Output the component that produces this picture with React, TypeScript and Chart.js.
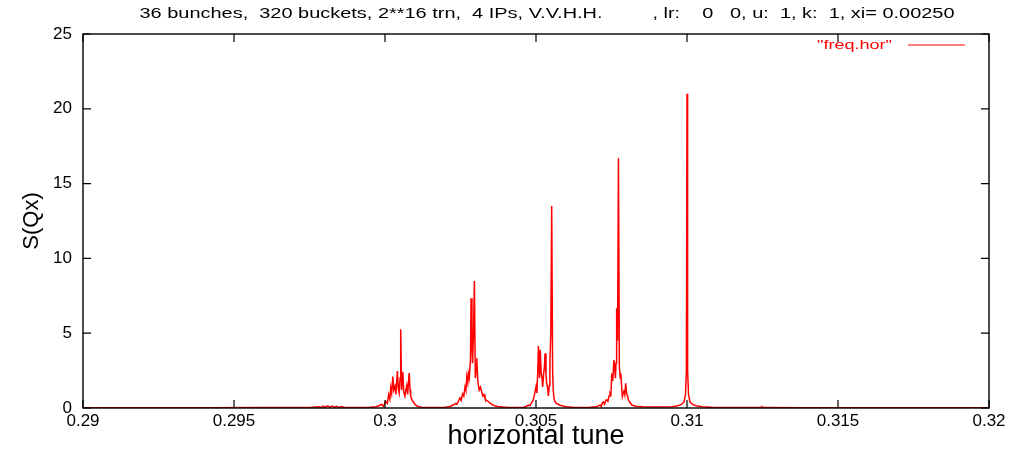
import React, { useEffect, useRef } from "react";
import { Chart, registerables } from "chart.js";

Chart.register(...registerables);

// ---- data ----
const tuneValues: number[] = [
  0.29, 0.292, 0.294, 0.296, 0.2975,
  0.2978, 0.29788, 0.29795, 0.29802, 0.2981, 0.29818, 0.29825, 0.29833, 0.2984, 0.29848, 0.29856, 0.29865,
  0.299, 0.2995, 0.2997, 0.2998,
  0.29989, 0.29995, 0.30002, 0.30008, 0.30012, 0.30016, 0.30019, 0.30022, 0.30026, 0.30029, 0.30033, 0.30036,
  0.30041, 0.30044, 0.30047, 0.3005, 0.30052, 0.30055, 0.30057, 0.30059, 0.30062, 0.30066, 0.30069, 0.30072,
  0.30075, 0.30078, 0.3008, 0.30083, 0.30085, 0.30089, 0.30094, 0.30099, 0.30105, 0.3011, 0.30116, 0.30125,
  0.3015, 0.3018, 0.302, 0.30215,
  0.30226, 0.30232, 0.30238, 0.30243, 0.30248, 0.30252, 0.30257, 0.30261, 0.30265, 0.30268, 0.30271, 0.30274,
  0.30276, 0.30279, 0.30283, 0.30285, 0.30288, 0.3029, 0.30293, 0.30296, 0.30299, 0.30302, 0.30304, 0.30307,
  0.30309, 0.30312, 0.30316, 0.3032, 0.30324, 0.30328, 0.30331, 0.30336, 0.30341, 0.30348, 0.30355, 0.30363,
  0.30374, 0.3039, 0.30414, 0.3044, 0.3046, 0.30468,
  0.30475, 0.3048, 0.30485, 0.30491, 0.30495, 0.305, 0.30503, 0.30506, 0.30508, 0.3051, 0.30512, 0.30514,
  0.30517, 0.3052, 0.30522, 0.30525, 0.30528, 0.3053, 0.30533, 0.30535, 0.30538, 0.30541, 0.30544, 0.30546,
  0.30549, 0.30552, 0.30555, 0.30557, 0.3056, 0.30563, 0.30568, 0.30574, 0.3058, 0.30589, 0.306, 0.3062,
  0.3065, 0.3068, 0.307,
  0.30712, 0.30716, 0.3072, 0.30723, 0.30727, 0.30731, 0.30734, 0.30738, 0.30742, 0.30745, 0.30748, 0.30751,
  0.30754, 0.30758, 0.30761, 0.30763, 0.30765, 0.30767, 0.3077, 0.30773, 0.30776, 0.30779, 0.30781, 0.30784,
  0.30786, 0.30789, 0.30791, 0.30794, 0.30797, 0.308, 0.30803, 0.30806, 0.3081, 0.30817, 0.3083, 0.30854,
  0.3088, 0.3092,
  0.3095, 0.3097, 0.3098, 0.3099, 0.30995, 0.30998, 0.31, 0.31002, 0.31005, 0.3101, 0.3102, 0.3103, 0.3105,
  0.3108, 0.3113, 0.3124, 0.31245, 0.31248, 0.31252, 0.3126, 0.314, 0.316, 0.318, 0.32,
];

const sqxValues: number[] = [
  0.02, 0.02, 0.02, 0.03, 0.03,
  0.08, 0.03, 0.12, 0.05, 0.15, 0.06, 0.13, 0.05, 0.11, 0.04, 0.09, 0.03,
  0.04, 0.05, 0.08, 0.15,
  0.25, 0.1, 0.45, 0.3, 0.9, 0.6, 1.35, 1.0, 2.1, 1.2, 1.45, 0.9,
  2.47, 1.3, 1.0, 2.0, 5.26, 1.2, 1.8, 2.4, 1.1, 0.8, 1.2, 1.5,
  0.9, 1.8, 2.34, 1.2, 0.8, 0.55, 0.4, 0.25, 0.15, 0.1, 0.06, 0.04,
  0.03, 0.03, 0.05, 0.1,
  0.2, 0.3, 0.25, 0.45, 0.67, 0.5, 0.95, 0.8, 1.42, 1.2, 2.1, 1.7,
  2.3, 2.0, 3.2, 7.33, 4.0, 3.0, 5.0, 8.49, 2.0, 2.6, 3.32, 1.9,
  1.54, 1.2, 1.4, 1.09, 0.8, 0.9, 0.67, 0.5, 0.45, 0.33, 0.22, 0.15,
  0.1, 0.06, 0.04, 0.03, 0.05, 0.12,
  0.2, 0.15, 0.35, 0.53, 0.9, 1.43, 1.0, 2.5, 4.14, 2.8, 2.0, 3.9,
  2.43, 2.0, 1.4, 2.2, 2.8, 3.65, 2.3, 1.7, 1.4, 0.8, 1.5, 3.0,
  5.0, 13.5, 2.5, 1.2, 0.6, 0.42, 0.3, 0.25, 0.18, 0.13, 0.08, 0.05,
  0.04, 0.05, 0.08,
  0.2, 0.1, 0.35, 0.4, 0.25, 0.5, 0.55, 0.45, 0.8, 1.0, 0.9, 2.3,
  1.8, 3.2, 2.6, 2.0, 3.0, 6.66, 4.5, 16.69, 2.76, 2.0, 2.3, 1.3,
  0.76, 1.0, 1.2, 0.9, 1.65, 1.0, 0.8, 0.55, 0.4, 0.2, 0.12, 0.08,
  0.06, 0.06,
  0.08, 0.15, 0.22, 0.4, 0.9, 2.5, 21.0, 2.5, 0.9, 0.4, 0.22, 0.15, 0.08,
  0.05, 0.03, 0.03, 0.03, 0.1, 0.03, 0.03, 0.02, 0.02, 0.02, 0.02,
];

const xTickValues: number[] = [0.29, 0.295, 0.3, 0.305, 0.31, 0.315, 0.32];
const xTickLabels: string[] = ["0.29", "0.295", "0.3", "0.305", "0.31", "0.315", "0.32"];
const yTickValues: number[] = [0, 5, 10, 15, 20, 25];
const yTickLabels: string[] = ["0", "5", "10", "15", "20", "25"];

const titleText =
  "36 bunches,  320 buckets, 2**16 trn,  4 IPs, V.V.H.H.         , lr:    0   0, u:  1, k:  1, xi= 0.00250";
const seriesLabel = '"freq.hor"';
const xAxisTitle = "horizontal tune";
const yAxisTitle = "S(Qx)";

const FONT = "'Liberation Sans', Arial, Helvetica, sans-serif";
const RED = "#ff0000";

// draws text stretched horizontally to a target width (the original image is a stretched gnuplot bitmap)
function drawStretched(
  ctx: CanvasRenderingContext2D,
  text: string,
  x: number,
  y: number,
  targetWidth: number,
  align: "center" | "right"
) {
  const w = ctx.measureText(text).width;
  const sx = targetWidth / w;
  ctx.save();
  ctx.translate(x, y);
  ctx.scale(sx, 1);
  ctx.textAlign = align;
  ctx.textBaseline = "middle";
  ctx.fillText(text, 0, 0);
  ctx.restore();
}

const gnuplotFrame = {
  id: "gnuplotFrame",
  afterDatasetsDraw(chart: any) {
    const { ctx, chartArea } = chart;
    const { left, right, top, bottom } = chartArea;
    const xs = chart.scales.x;
    const ys = chart.scales.y;
    const tick = 8;
    ctx.save();
    ctx.strokeStyle = "#000";
    ctx.lineWidth = 1.2;
    ctx.beginPath();
    xTickValues.forEach((v) => {
      const px = xs.getPixelForValue(v);
      ctx.moveTo(px, bottom);
      ctx.lineTo(px, bottom - tick);
      ctx.moveTo(px, top);
      ctx.lineTo(px, top + tick);
    });
    yTickValues.forEach((v) => {
      const py = ys.getPixelForValue(v);
      ctx.moveTo(left, py);
      ctx.lineTo(left + tick, py);
      ctx.moveTo(right, py);
      ctx.lineTo(right - tick, py);
    });
    ctx.stroke();
    ctx.lineWidth = 1.4;
    ctx.strokeRect(left, top, right - left, bottom - top);

    // legend (gnuplot style: text then line sample)
    const ly = top + 11;
    ctx.fillStyle = RED;
    ctx.font = `13px ${FONT}`;
    drawStretched(ctx, chart.data.datasets[0].label, right - 97, ly, 75, "right");
    ctx.strokeStyle = RED;
    ctx.lineWidth = 1.2;
    ctx.beginPath();
    ctx.moveTo(right - 81, ly);
    ctx.lineTo(right - 24, ly);
    ctx.stroke();

    // title
    ctx.fillStyle = "#000";
    ctx.font = `14px ${FONT}`;
    drawStretched(ctx, titleText, 547, 14, 815, "center");
    ctx.restore();
  },
};

export default function App() {
  const canvasRef = useRef<HTMLCanvasElement | null>(null);

  useEffect(() => {
    if (!canvasRef.current) return;
    const points = tuneValues.map((x, i) => ({ x, y: sqxValues[i] }));
    const chart = new Chart(canvasRef.current, {
      type: "line",
      data: {
        datasets: [
          {
            label: seriesLabel,
            data: points,
            borderColor: RED,
            backgroundColor: RED,
            borderWidth: 1.5,
            pointRadius: 0,
            tension: 0,
            fill: false,
          },
        ],
      },
      options: {
        animation: false,
        responsive: true,
        maintainAspectRatio: false,
        parsing: false,
        layout: { padding: { left: 0, right: 22, top: 34, bottom: 0 } },
        plugins: {
          legend: { display: false },
          title: { display: false },
          tooltip: { enabled: false },
        },
        scales: {
          x: {
            type: "linear",
            min: 0.29,
            max: 0.32,
            afterBuildTicks: (s: any) => {
              s.ticks = xTickValues.map((v) => ({ value: v }));
            },
            afterFit: (s: any) => {
              s.height = 42;
            },
            ticks: {
              callback: (_v: any, i: number) => xTickLabels[i],
              autoSkip: false,
              maxRotation: 0,
              padding: 3,
              color: "#000",
              font: { family: FONT, size: 17 },
            },
            grid: { display: false, drawTicks: false },
            border: { display: false },
            title: {
              display: true,
              text: xAxisTitle,
              color: "#000",
              font: { family: FONT, size: 27, lineHeight: 1.0 },
              padding: { top: 0, bottom: 0 },
            },
          },
          y: {
            type: "linear",
            min: 0,
            max: 25,
            afterBuildTicks: (s: any) => {
              s.ticks = yTickValues.map((v) => ({ value: v }));
            },
            afterFit: (s: any) => {
              s.width = 83;
            },
            ticks: {
              callback: (_v: any, i: number) => yTickLabels[i],
              autoSkip: false,
              padding: 11,
              color: "#000",
              font: { family: FONT, size: 17 },
            },
            grid: { display: false, drawTicks: false },
            border: { display: false },
            title: {
              display: true,
              text: yAxisTitle,
              color: "#000",
              font: { family: FONT, size: 22 },
              padding: { top: 19, bottom: 0 },
            },
          },
        },
      },
      plugins: [gnuplotFrame],
    });
    return () => chart.destroy();
  }, []);

  return (
    <div style={{ position: "absolute", left: 0, top: 0, width: 1011, height: 450, background: "#fff" }}>
      <canvas ref={canvasRef} />
    </div>
  );
}
